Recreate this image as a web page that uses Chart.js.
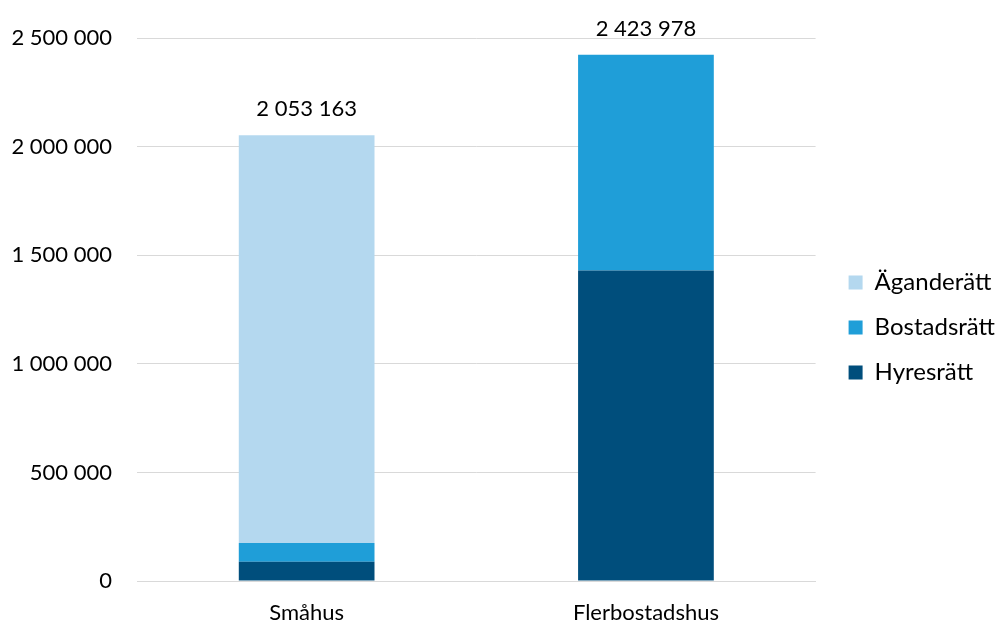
<!DOCTYPE html>
<html>
<head>
<meta charset="utf-8">
<script src="https://cdn.jsdelivr.net/npm/chart.js@4/dist/chart.umd.min.js"></script>
<style>
  html, body { margin: 0; padding: 0; background: #ffffff; }
  #wrap { width: 998px; height: 625px; }
</style>
</head>
<body>
<div id="wrap"><canvas id="c" width="998" height="625"></canvas></div>
<script>
// Bostäder per hustyp och upplåtelseform
const categories = ['Småhus', 'Flerbostadshus'];
const hyresratt = [88700, 1429700];
const bostadsratt = [86000, 994278];
const aganderatt = [1878463, 0];
const totals = [2053163, 2423978];
const yTicks = [0, 500000, 1000000, 1500000, 2000000, 2500000];

const FONT = 'Lato, "Open Sans", sans-serif';
const FS = 22;
const LEGEND_GAP = 12;   // extra space between plot area and legend
const LEGEND_LIFT = 3;   // vertical nudge of the legend
const fmt = v => String(v).replace(/\B(?=(\d{3})+(?!\d))/g, ' ');

// Summa ovanför varje stapel
const totalLabels = {
  id: 'totalLabels',
  afterDatasetsDraw(chart) {
    const ctx = chart.ctx;
    const meta = chart.getDatasetMeta(0);
    const y = chart.scales.y;
    ctx.save();
    ctx.font = FS + 'px ' + FONT;
    ctx.fillStyle = '#000000';
    ctx.textAlign = 'center';
    ctx.textBaseline = 'middle';
    totals.forEach((t, i) => {
      const x = meta.data[i].x;
      ctx.fillText(fmt(t), x, y.getPixelForValue(t) - 26);
    });
    ctx.restore();
  }
};

// Widen the legend box on its left side so the plot area ends earlier
const legendGap = {
  id: 'legendGap',
  afterInit(chart) {
    const lg = chart.legend;
    if (!lg) return;
    const fit = lg.fit.bind(lg);
    lg.fit = function () { fit(); this.width += LEGEND_GAP; };
  },
  afterLayout(chart) {
    const lg = chart.legend;
    if (!lg) return;
    lg.left += LEGEND_GAP;
    lg.top -= LEGEND_LIFT;
    lg.bottom -= LEGEND_LIFT;
  }
};

new Chart(document.getElementById('c'), {
  type: 'bar',
  data: {
    labels: categories,
    datasets: [
      { label: 'Hyresrätt', data: hyresratt, backgroundColor: '#004E7C' },
      { label: 'Bostadsrätt', data: bostadsratt, backgroundColor: '#1F9ED8' },
      { label: 'Äganderätt', data: aganderatt, backgroundColor: '#B4D8EF' }
    ]
  },
  options: {
    responsive: false,
    animation: false,
    devicePixelRatio: 1,
    layout: { padding: { left: 0, right: -7, top: 36, bottom: 0 } },
    datasets: { bar: { barPercentage: 0.4, categoryPercentage: 1.0, borderWidth: 0 } },
    plugins: {
      tooltip: { enabled: false },
      legend: {
        position: 'right',
        reverse: true,
        labels: {
          font: { family: FONT, size: 24 },
          color: '#000000',
          boxWidth: 14,
          boxHeight: 14,
          padding: 21
        }
      }
    },
    scales: {
      x: {
        stacked: true,
        grid: { display: false },
        border: { display: true, color: '#D9D9D9', width: 1 },
        ticks: { font: { family: FONT, size: FS }, color: '#000000', padding: 11 },
        afterFit(scale) { scale.height = 44; }
      },
      y: {
        stacked: true,
        min: 0,
        max: 2500000,
        afterBuildTicks(scale) { scale.ticks = yTicks.map(v => ({ value: v })); },
        grid: { color: '#D9D9D9', lineWidth: 1, drawTicks: false },
        border: { display: false },
        ticks: {
          font: { family: FONT, size: FS },
          color: '#000000',
          padding: 25,
          callback: v => fmt(v)
        },
        afterFit(scale) { scale.width = 137; }
      }
    }
  },
  plugins: [totalLabels, legendGap]
});
</script>
</body>
</html>
